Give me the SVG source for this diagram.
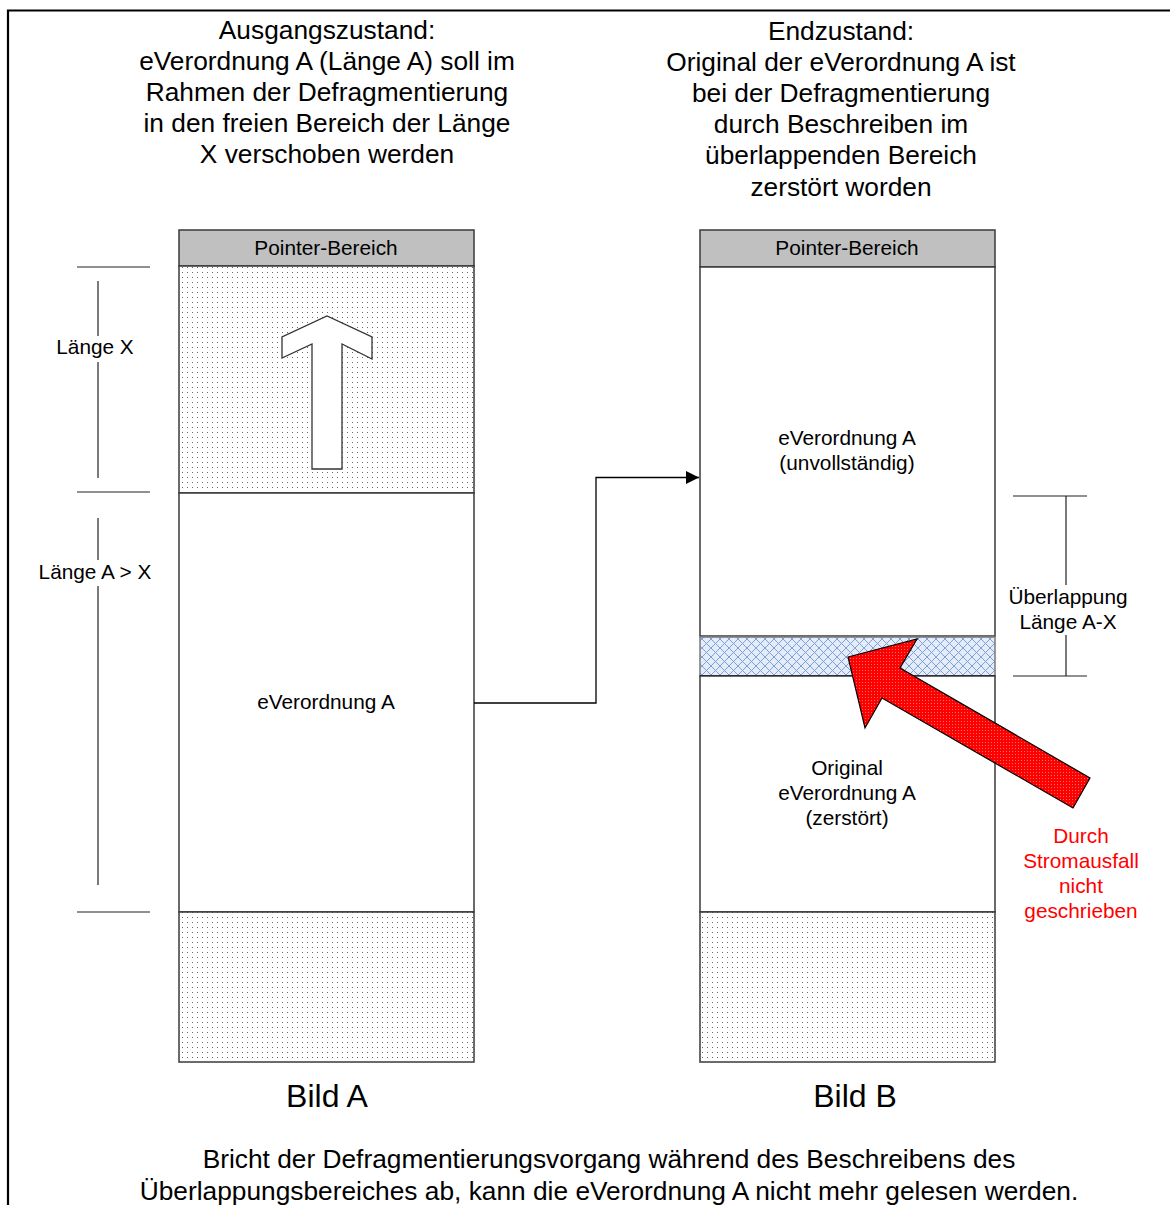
<svg xmlns="http://www.w3.org/2000/svg" width="1170" height="1205" viewBox="0 0 1170 1205">
<defs>
<pattern id="dots" width="5" height="5" patternUnits="userSpaceOnUse">
<rect width="5" height="5" fill="#ffffff"/>
<rect x="2" y="2" width="1" height="1" fill="#6a6a6a"/>
</pattern>
<pattern id="hatch" width="9" height="9" patternUnits="userSpaceOnUse">
<rect width="9" height="9" fill="#e4ecf9"/>
<path d="M0,0 L9,9 M9,0 L0,9 M-1,8 L1,10 M8,-1 L10,1 M-1,1 L1,-1 M8,10 L10,8" stroke="#7f9fd8" stroke-width="1"/>
</pattern>
<pattern id="redp" width="3" height="3" patternUnits="userSpaceOnUse">
<rect width="3" height="3" fill="#ff0000"/>
<rect x="1" y="1" width="1" height="1" fill="#f07070"/>
</pattern>
<marker id="arr" viewBox="0 0 10 10" refX="10" refY="5" markerWidth="13" markerHeight="13" markerUnits="userSpaceOnUse" orient="auto">
<path d="M0,0 L10,5 L0,10 Z" fill="#000"/>
</marker>
</defs>
<style>
text{font-family:"Liberation Sans",Arial,sans-serif;fill:#000;text-anchor:middle}
.t{font-size:26.3px}
.l{font-size:20.8px}
.b{font-size:32px}
.r{fill:#ff0000}
.box{stroke:#3a3a3a;stroke-width:1.5}
.dim{stroke:#222;stroke-width:1.2;fill:none}
</style>
<rect width="1170" height="1205" fill="#fff"/>
<path d="M8,1205 V10.5 H1170" fill="none" stroke="#000" stroke-width="2.2"/>

<g id="title-left">
<text class="t" x="327" y="39">Ausgangszustand:</text>
<text class="t" x="327" y="70">eVerordnung A (Länge A) soll im</text>
<text class="t" x="327" y="101">Rahmen der Defragmentierung</text>
<text class="t" x="327" y="132">in den freien Bereich der Länge</text>
<text class="t" x="327" y="163">X verschoben werden</text>
</g>
<g id="title-right">
<text class="t" x="841" y="40">Endzustand:</text>
<text class="t" x="841" y="71">Original der eVerordnung A ist</text>
<text class="t" x="841" y="102">bei der Defragmentierung</text>
<text class="t" x="841" y="133">durch Beschreiben im</text>
<text class="t" x="841" y="164">überlappenden Bereich</text>
<text class="t" x="841" y="196">zerstört worden</text>
</g>

<g id="bild-a">
<rect class="box" x="179" y="230" width="295" height="36" fill="#c0c0c0"/>
<text class="l" x="326" y="255">Pointer-Bereich</text>
<rect class="box" x="179" y="266" width="295" height="227" fill="url(#dots)"/>
<rect class="box" x="179" y="493" width="295" height="419" fill="#fff"/>
<text class="l" x="326" y="709">eVerordnung A</text>
<rect class="box" x="179" y="912" width="295" height="150" fill="url(#dots)"/>
<polygon points="312,469 312,344 282,358 282,337 327,316 372,337 372,359 342,344 342,469" fill="#fff" stroke="#333" stroke-width="1.3"/>
<text class="b" x="327" y="1107">Bild A</text>
</g>

<g id="bild-b">
<rect class="box" x="700" y="230" width="295" height="37" fill="#c0c0c0"/>
<text class="l" x="847" y="255">Pointer-Bereich</text>
<rect class="box" x="700" y="267" width="295" height="369" fill="#fff"/>
<text class="l" x="847" y="445">eVerordnung A</text>
<text class="l" x="847" y="470">(unvollständig)</text>
<rect x="700" y="637" width="295" height="39" fill="url(#hatch)" stroke="#7a7a7a" stroke-width="1.5"/>
<line x1="700" y1="676" x2="995" y2="676" stroke="#111" stroke-width="2"/>
<rect class="box" x="700" y="676" width="295" height="236" fill="#fff"/>
<text class="l" x="847" y="775">Original</text>
<text class="l" x="847" y="800">eVerordnung A</text>
<text class="l" x="847" y="825">(zerstört)</text>
<rect class="box" x="700" y="912" width="295" height="150" fill="url(#dots)"/>
<text class="b" x="855" y="1107">Bild B</text>
</g>

<g id="red-arrow">
<polygon points="848,657 917,639 900,668 1090,778 1073,808 882,698 865,728" fill="url(#redp)" stroke="#000" stroke-width="1.2"/>
<text class="l r" x="1081" y="843">Durch</text>
<text class="l r" x="1081" y="868">Stromausfall</text>
<text class="l r" x="1081" y="893">nicht</text>
<text class="l r" x="1081" y="918">geschrieben</text>
</g>

<g id="dim-x">
<line class="dim" x1="77" y1="267" x2="150" y2="267"/>
<line class="dim" x1="98" y1="281" x2="98" y2="336" stroke="#555"/>
<line class="dim" x1="98" y1="362" x2="98" y2="478"/>
<line class="dim" x1="77" y1="492" x2="150" y2="492"/>
<text class="l" x="95" y="354">Länge X</text>
</g>
<g id="dim-a">
<line class="dim" x1="98" y1="518" x2="98" y2="560"/>
<line class="dim" x1="98" y1="586" x2="98" y2="885"/>
<line class="dim" x1="77" y1="912" x2="150" y2="912"/>
<text class="l" x="95" y="579">Länge A &gt; X</text>
</g>
<g id="dim-overlap">
<line class="dim" x1="1013" y1="496" x2="1087" y2="496"/>
<line class="dim" x1="1066" y1="496" x2="1066" y2="585"/>
<line class="dim" x1="1066" y1="635" x2="1066" y2="676"/>
<line class="dim" x1="1013" y1="676" x2="1087" y2="676"/>
<text class="l" x="1068" y="604">Überlappung</text>
<text class="l" x="1068" y="629">Länge A-X</text>
</g>

<g id="connectors">
<path d="M474,703 H596 V477.5 H699" fill="none" stroke="#000" stroke-width="1.3" marker-end="url(#arr)"/>
</g>

<g id="caption">
<text class="t" x="609" y="1168">Bricht der Defragmentierungsvorgang während des Beschreibens des</text>
<text class="t" x="609" y="1200">Überlappungsbereiches ab, kann die eVerordnung A nicht mehr gelesen werden.</text>
</g>
</svg>
